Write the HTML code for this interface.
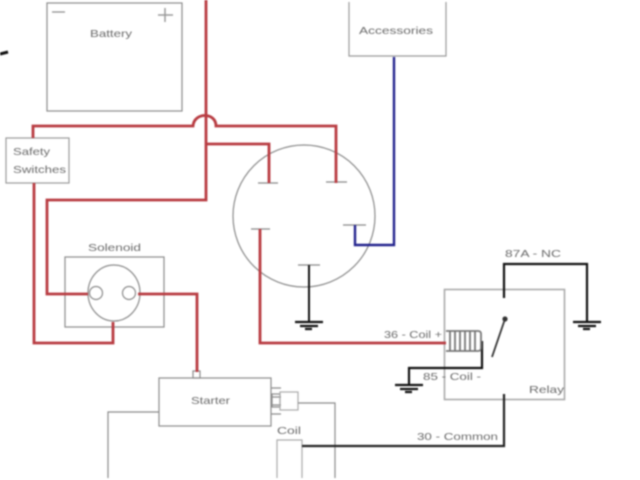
<!DOCTYPE html>
<html>
<head>
<meta charset="utf-8">
<style>
html,body{margin:0;padding:0;background:#fff;width:640px;height:480px;overflow:hidden}
svg{display:block;filter:blur(0.7px)}
text{font-family:"Liberation Sans",sans-serif;font-size:10.5px;fill:#6a6a6a}
</style>
</head>
<body>
<svg width="640" height="480" viewBox="0 0 640 480" xmlns="http://www.w3.org/2000/svg">
<rect width="640" height="480" fill="#fff"/>
<g fill="none" stroke="#8a8a8a" stroke-width="1.2">
  <rect x="47" y="3" width="135" height="108"/>
  <path d="M349 2V56H446V2" stroke="#999"/>
  <rect x="6" y="138" width="63" height="45" stroke="#999"/>
  <rect x="65" y="257" width="99" height="70"/>
  <ellipse cx="114" cy="293" rx="26" ry="28"/>
  <circle cx="96" cy="293" r="6.5"/>
  <circle cx="129" cy="293" r="6.5"/>
  <circle cx="304" cy="216" r="71"/>
  <rect x="159" y="378" width="112" height="48"/>
  <rect x="193" y="371" width="7" height="7"/>
  <path d="M159 412H108V478"/>
  <path d="M271 388H281M271 397H281M271 405H281M271 414H281"/>
  <rect x="272" y="394" width="8" height="13"/>
  <rect x="280" y="392" width="18" height="18" stroke="#aaa"/>
  <path d="M298 403H335V478"/>
  <path d="M277 478V440H302V478" stroke="#aaa"/>
  <rect x="444.500" y="289.500" width="120" height="110" stroke="#aaa" stroke-width="1.6"/>
  <path d="M258 183H278M326 182H347M251 229H270M343 225H366M298 265H320" stroke="#888"/>
</g>
<g fill="none" stroke="#b83c42" stroke-width="2.8">
  <path d="M206 0V200H47V294H88"/>
  <path d="M33 138V126H193C194 112 216 112 216 126H336V183"/>
  <path d="M207 144H269V183"/>
  <path d="M34 183V343H113V322"/>
  <path d="M138 294H197V372"/>
  <path d="M260 229V343H446"/>
</g>
<g fill="none" stroke="#24248e" stroke-width="2.4">
  <path d="M394 57V245H355V225"/>
</g>
<g fill="none" stroke="#111" stroke-width="2.2">
  <path d="M0 54L8 52" stroke-width="3"/>
  <path d="M309 265V322" stroke-width="2"/>
  <path d="M504 298V264H587V322"/>
  <path d="M482 341V368H409V385"/>
  <path d="M504 394V446H302" stroke="#222"/>
  <path d="M505 319L492 357" stroke="#333" stroke-width="1.8"/>
  <path d="M295 322H323M300 326H318M305 329H312"/>
  <path d="M573 322H601M578 326H596M583 329H590"/>
  <path d="M395 385H423M400 389H418M405 392H412"/>
</g>
<circle cx="505" cy="319" r="2.600" fill="#333"/>
<g fill="none" stroke="#777" stroke-width="1.8">
  <path d="M446 331H478Q481 331 481 334V348Q481 351 478 351H446"/>
  <path d="M450 331V351M455 331V351M460 331V351M465 331V351M470 331V351M475 331V351"/>
</g>
<path d="M52 12H65" stroke="#888" stroke-width="1.2"/>
<path d="M158 15H173M165 8V22" stroke="#999" stroke-width="1.5"/>
<text x="90" y="37" textLength="42" lengthAdjust="spacingAndGlyphs">Battery</text>
<text x="359" y="34" textLength="74" lengthAdjust="spacingAndGlyphs">Accessories</text>
<text x="13" y="155" textLength="37" lengthAdjust="spacingAndGlyphs">Safety</text>
<text x="13" y="173" textLength="53" lengthAdjust="spacingAndGlyphs">Switches</text>
<text x="88" y="251" textLength="53" lengthAdjust="spacingAndGlyphs">Solenoid</text>
<text x="191" y="404" textLength="39" lengthAdjust="spacingAndGlyphs">Starter</text>
<text x="277" y="434" textLength="24" lengthAdjust="spacingAndGlyphs">Coil</text>
<text x="384" y="338" textLength="58" lengthAdjust="spacingAndGlyphs">36 - Coil +</text>
<text x="423" y="380" textLength="58" lengthAdjust="spacingAndGlyphs">85 - Coil -</text>
<text x="505" y="257" textLength="56" lengthAdjust="spacingAndGlyphs">87A - NC</text>
<text x="529" y="393" textLength="35" lengthAdjust="spacingAndGlyphs">Relay</text>
<text x="417" y="440" textLength="81" lengthAdjust="spacingAndGlyphs">30 - Common</text>
</svg>
</body>
</html>
